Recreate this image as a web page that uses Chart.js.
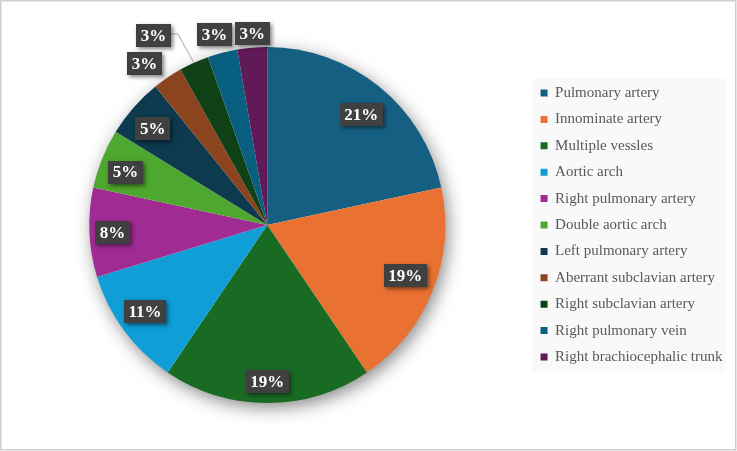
<!doctype html>
<html>

<head>
	<title>Vascular compression</title>
	<script src="https://cdn.jsdelivr.net/npm/chart.js@4/dist/chart.umd.min.js"></script>
	<style>
	body { margin: 0; background: #fff; }
	#wrap { width: 737px; height: 451px; }
	</style>
</head>

<body>
	<div id="wrap">
		<canvas id="canvas1" width="737" height="451"></canvas>
	</div>
	<script>
		// categories / counts (slice sizes), shown labels as printed
		var causes = ['Pulmonary artery', 'Innominate artery', 'Multiple vessles', 'Aortic arch',
			'Right pulmonary artery', 'Double aortic arch', 'Left pulmonary artery',
			'Aberrant subclavian artery', 'Right subclavian artery', 'Right pulmonary vein',
			'Right brachiocephalic trunk'];
		var counts = [8, 7, 7, 4, 3, 2, 2, 1, 1, 1, 1];
		var pctLabels = ['21%', '19%', '19%', '11%', '8%', '5%', '5%', '3%', '3%', '3%', '3%'];

		var sliceColors = ['#156082', '#E97132', '#196B24', '#0F9ED5', '#A02B93', '#4EA72E',
			'#0D3A4E', '#8B441E', '#0F4016', '#095F80', '#601A58'];

		// label spot per slice: [radius factor, angle shift in degrees]
		var labelSpots = [[0.815, 1.4], [0.826, -1.6], [0.88, 0], [0.84, 1.3], [0.87, -0.2],
			[0.85, -1.4], [0.84, -1.4], [1.14, -3.2], [1.24, -6.7], [1.11, -0.9], [1.08, 0.4]];
		var leaderFor = [8];

		var framePlugin = {
			id: 'frame',
			beforeDraw: function(chart) {
				var ctx = chart.ctx;
				var lg = chart.legend;
				ctx.save();
				ctx.fillStyle = '#fff';
				ctx.fillRect(0, 0, chart.width, chart.height);
				if (lg && lg.legendHitBoxes.length) {
					var first = lg.legendHitBoxes[0];
					var last = lg.legendHitBoxes[lg.legendHitBoxes.length - 1];
					ctx.fillStyle = '#f9f9f9';
					ctx.fillRect(lg.left + 2.5, first.top - 7, 194, last.top + last.height - first.top + 14);
				}
				ctx.restore();
			},
			beforeDatasetsDraw: function(chart) {
				// soft shadow under the pie
				var arc = chart.getDatasetMeta(0).data[0];
				var p = arc.getProps(['x', 'y', 'outerRadius'], true);
				var ctx = chart.ctx;
				ctx.save();
				ctx.shadowColor = 'rgba(0,0,0,0.5)';
				ctx.shadowBlur = 18;
				ctx.shadowOffsetX = 3;
				ctx.shadowOffsetY = 5;
				ctx.fillStyle = '#fff';
				ctx.beginPath();
				ctx.arc(p.x, p.y, p.outerRadius - 1, 0, Math.PI * 2);
				ctx.fill();
				ctx.restore();
			},
			afterDraw: function(chart) {
				var ctx = chart.ctx;
				var meta = chart.getDatasetMeta(0);
				ctx.save();
				ctx.font = 'bold 17px "Liberation Serif"';
				ctx.textAlign = 'center';
				ctx.textBaseline = 'middle';
				meta.data.forEach(function(arc, i) {
					var p = arc.getProps(['x', 'y', 'startAngle', 'endAngle', 'outerRadius'], true);
					var mid = (p.startAngle + p.endAngle) / 2;
					var ang = mid + labelSpots[i][1] * Math.PI / 180;
					var rr = p.outerRadius * labelSpots[i][0];
					var cx = p.x + Math.cos(ang) * rr;
					var cy = p.y + Math.sin(ang) * rr;
					var txt = pctLabels[i];
					var w = ctx.measureText(txt).width + 9;
					var h = 23;

					if (leaderFor.indexOf(i) >= 0) {
						var ex = p.x + Math.cos(mid) * p.outerRadius;
						var ey = p.y + Math.sin(mid) * p.outerRadius;
						ctx.strokeStyle = '#a6a6a6';
						ctx.lineWidth = 1;
						ctx.beginPath();
						ctx.moveTo(cx + w / 2, cy - 2);
						ctx.lineTo(cx + w / 2 + 7, cy - 2);
						ctx.lineTo(ex, ey);
						ctx.stroke();
					}

					ctx.save();
					ctx.shadowColor = 'rgba(0,0,0,0.5)';
					ctx.shadowBlur = 4;
					ctx.shadowOffsetX = 2;
					ctx.shadowOffsetY = 2;
					ctx.fillStyle = '#404040';
					ctx.fillRect(Math.round(cx - w / 2), Math.round(cy - h / 2), Math.round(w), h);
					ctx.restore();
					ctx.fillStyle = '#fff';
					ctx.fillText(txt, cx, cy + 1);
				});
				// outer frame
				ctx.strokeStyle = '#d0d0d0';
				ctx.lineWidth = 1.5;
				ctx.strokeRect(0.75, 0.75, chart.width - 2, chart.height - 2);
				ctx.restore();
			}
		};

		window.onload = function() {
			var ctx1 = document.getElementById('canvas1').getContext('2d');
			window.myPie = new Chart(ctx1, {
				type: 'pie',
				data: {
					labels: causes,
					datasets: [{
						data: counts,
						backgroundColor: sliceColors,
						borderWidth: 0
					}]
				},
				options: {
					responsive: false,
					animation: false,
					layout: {
						padding: { left: 5.4, right: 4.5, top: 47, bottom: 48 }
					},
					plugins: {
						tooltip: { enabled: false },
						legend: {
							position: 'right',
							labels: {
								boxWidth: 7,
								boxHeight: 7,
								padding: 11.4,
								color: '#595959',
								font: { family: '"Liberation Serif"', size: 15 }
							}
						}
					}
				},
				plugins: [framePlugin]
			});
		};
	</script>
</body>

</html>
